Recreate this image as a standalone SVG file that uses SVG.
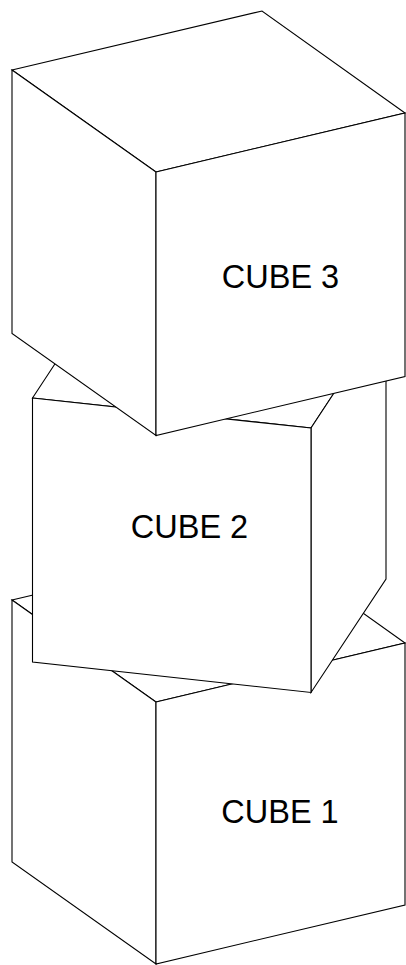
<svg xmlns="http://www.w3.org/2000/svg" width="406" height="965" viewBox="0 0 406 965">
<style>
.face{fill:#ffffff;stroke:#000000;stroke-width:1.1;stroke-linejoin:miter}
.lbl{font-family:"Liberation Sans",Arial,sans-serif;font-size:32.5px;fill:#000000;text-anchor:middle}
</style>
<rect x="0" y="0" width="406" height="965" fill="#ffffff"/>
<g id="cube1">
<polygon class="face" points="12,600 262,541 405,643 156,702"/>
<polygon class="face" points="12,600 156,702 156,964 12,862"/>
<polygon class="face" points="156,702 405,643 405,905 156,964"/>
<text class="lbl" x="280" y="823">CUBE 1</text>
</g>
<g id="cube2">
<polygon class="face" points="32.5,398 107.5,284 386,314 311,428"/>
<polygon class="face" points="311,428 386,314 386,579 311,692.5"/>
<polygon class="face" points="32.5,398 311,428 311,692.5 32.5,662"/>
<text class="lbl" x="189.5" y="538">CUBE 2</text>
</g>
<g id="cube3">
<polygon class="face" points="12,70 262,11 405,113 156,172"/>
<polygon class="face" points="12,70 156,172 156,435.5 12,333.5"/>
<polygon class="face" points="156,172 405,113 405,376.5 156,435.5"/>
<text class="lbl" x="280.5" y="287.5">CUBE 3</text>
</g>
</svg>
